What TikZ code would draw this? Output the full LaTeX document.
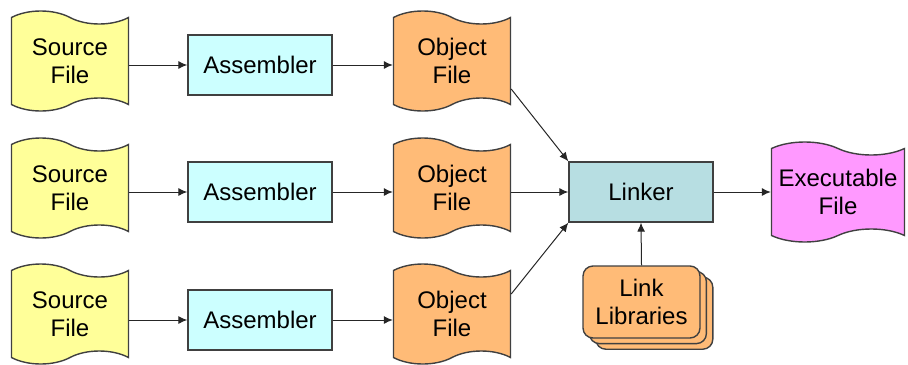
\documentclass[tikz,border=0pt]{standalone}
\usepackage{fontspec}
\setmainfont{Liberation Sans}
\usetikzlibrary{arrows.meta, calc, positioning}
\usetikzlibrary{shapes.symbols}
\usetikzlibrary{shadows}

\definecolor{srcfill}{HTML}{FFFF99}
\definecolor{asmfill}{HTML}{CCFFFF}
\definecolor{objfill}{HTML}{FFBB77}
\definecolor{lnkfill}{HTML}{B7DEE2}
\definecolor{exefill}{HTML}{FF99FF}
\definecolor{edge}{HTML}{404040}

\tikzset{
  filetape/.style={tape, draw=edge, line width=0.7pt, align=center,
    tape bend top=out and in, tape bend bottom=in and out,
    tape bend height=6.5pt, minimum width=58.5pt, minimum height=50pt,
    inner sep=0pt},
  procbox/.style={rectangle, draw=edge, line width=0.7pt, align=center,
    minimum width=72pt, minimum height=30pt},
  libbox/.style={rectangle, rounded corners=5pt, draw=edge, line width=0.7pt,
    fill=objfill, align=center, minimum width=58.5pt, minimum height=36pt,
    double copy shadow={shadow xshift=3.2pt, shadow yshift=-2.8pt}},
  flow/.style={-{Latex[length=4.5pt,width=4pt]}, line width=0.5pt, black!85}
}

\begin{document}
\begin{tikzpicture}[x=0.5pt, y=-0.5pt, font=\fontsize{12}{14}\selectfont]

\useasboundingbox (0,0) rectangle (908,364);

% --- tre righe: sorgente -> assembler -> oggetto
\foreach \r/\yt/\ya in {1/61/65, 2/188/192, 3/314/320}{
  \node[filetape, fill=srcfill] (src\r) at (70,\yt) {Source\\File};
  \node[procbox, fill=asmfill] (asm\r) at (260,\ya) {Assembler};
  \node[filetape, fill=objfill] (obj\r) at (452,\yt) {Object\\File};
  \draw[flow] (src\r.east |- asm\r.west) -- (asm\r.west);
  \draw[flow] (asm\r.east) -- (obj\r.west |- asm\r.east);
}

% --- linker, librerie, eseguibile
\node[procbox, fill=lnkfill] (linker) at (641,192) {Linker};
\node[libbox] (libs) at (641.5,302) {Link\\Libraries};
\node[filetape, fill=exefill, minimum width=66.5pt] (exe) at (838,192) {Executable\\File};

\draw[flow] ($(obj1.east)+(0,28)$) -- (linker.north west);
\draw[flow] (obj2.east |- linker.west) -- (linker.west);
\draw[flow] ($(obj3.east)+(0,-20)$) -- (linker.south west);
\draw[flow] (libs.north) -- (linker.south);
\draw[flow] (linker.east) -- (exe.west |- linker.east);

\end{tikzpicture}
\end{document}
